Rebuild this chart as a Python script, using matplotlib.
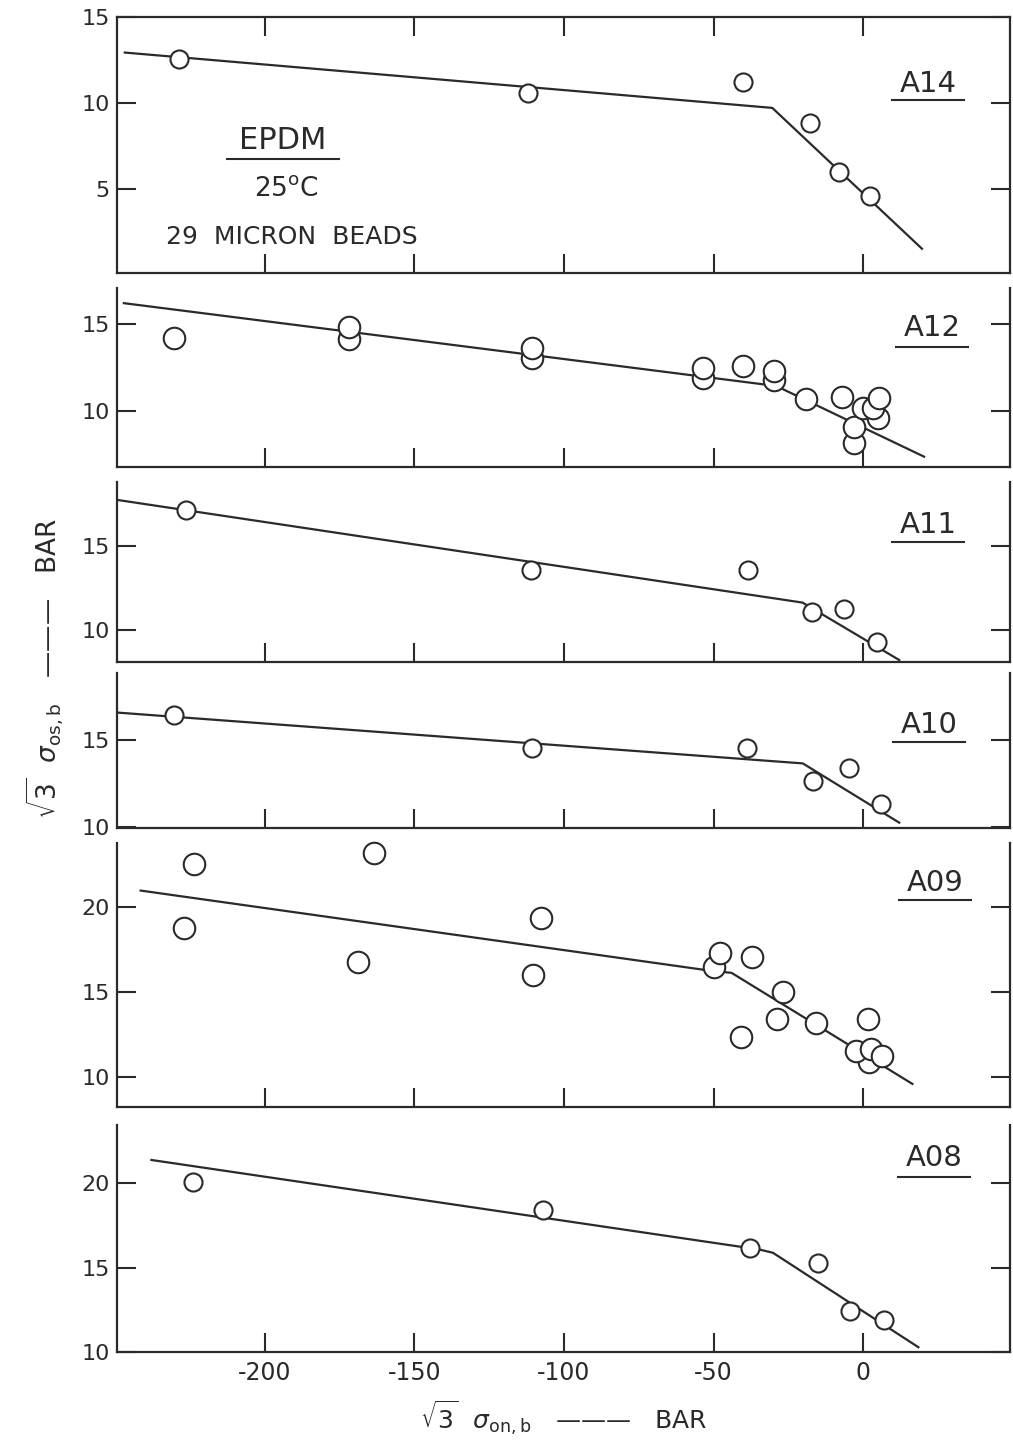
import matplotlib.pyplot as plt

plt.rcParams['font.family'] = ['DejaVu Sans']
plt.rcParams['axes.unicode_minus'] = False
plt.rcParams['mathtext.fontset'] = 'dejavusans'

# values: x = sqrt(3)*sigma_on,b (bar), y = sqrt(3)*sigma_os,b (bar)
names = ['A14', 'A12', 'A11', 'A10', 'A09', 'A08']

a14_x = [-228.7, -111.9, -40.2, -17.8, -8.0, 2.2]
a14_y = [12.54, 10.58, 11.19, 8.81, 6.00, 4.62]
a14_fit_x = [-246.7, -30.4, 19.6]
a14_fit_y = [12.92, 9.71, 1.54]

a12_x = [-230.3, -171.7, -171.7, -110.6, -110.6, -53.6, -53.6, -40.2, -30.0, -30.0,
         -19.3, -7.2, -3.0, -3.0, -0.2, 4.8, 3.1, 5.1]
a12_y = [14.19, 14.13, 14.86, 13.03, 13.61, 11.88, 12.45, 12.59, 11.78, 12.32,
         10.66, 10.78, 8.11, 9.07, 10.14, 9.56, 10.14, 10.72]
a12_fit_x = [-247.0, -29.1, 20.3]
a12_fit_y = [16.22, 11.43, 7.34]

a11_x = [-226.1, -111.1, -38.6, -17.1, -6.3, 4.6]
a11_y = [17.14, 13.57, 13.57, 11.09, 11.23, 9.30]
a11_fit_x = [-249.0, -20.3, 12.0]
a11_fit_y = [17.74, 11.63, 8.21]

a10_x = [-230.2, -110.6, -38.9, -16.9, -4.9, 5.9]
a10_y = [16.44, 14.56, 14.52, 12.65, 13.37, 11.29]
a10_fit_x = [-248.9, -20.2, 12.0]
a10_fit_y = [16.58, 13.65, 10.23]

a09_x = [-223.6, -227.0, -163.3, -168.9, -107.7, -110.2, -50.0, -48.0, -37.1, -40.8,
         -26.9, -28.9, -15.8, 1.4, 2.0, -2.4, 2.6, 6.4]
a09_y = [22.53, 18.76, 23.18, 16.80, 19.35, 16.02, 16.47, 17.32, 17.06, 12.39,
         15.04, 13.43, 13.19, 13.43, 10.92, 11.52, 11.66, 11.27]
a09_fit_x = [-241.4, -52.4, -44.0, 16.4]
a09_fit_y = [20.98, 16.30, 16.14, 9.61]

a08_x = [-223.9, -106.9, -38.0, -15.2, -4.4, 6.8]
a08_y = [20.10, 18.42, 16.20, 15.31, 12.44, 11.93]
a08_fit_x = [-237.8, -34.7, -30.2, 18.4]
a08_fit_y = [21.38, 16.08, 15.89, 10.30]

xs = [a14_x, a12_x, a11_x, a10_x, a09_x, a08_x]
ys = [a14_y, a12_y, a11_y, a10_y, a09_y, a08_y]
fit_xs = [a14_fit_x, a12_fit_x, a11_fit_x, a10_fit_x, a09_fit_x, a08_fit_x]
fit_ys = [a14_fit_y, a12_fit_y, a11_fit_y, a10_fit_y, a09_fit_y, a08_fit_y]

x_ticks = [-200, -150, -100, -50, 0]
y_ticks = [[5, 10, 15], [10, 15], [10, 15], [10, 15], [10, 15, 20], [10, 15, 20]]
y_limits = [(0.15, 15.0), (6.76, 17.08), (8.11, 18.83), (9.94, 18.85), (8.27, 23.76), (10.0, 23.45)]

# panel layout (pixel rows of each box in the original page)
W, H = 1013, 1442
rows = [(16.7, 272.7), (288.3, 466.7), (481.7, 661.7), (673.3, 827.7), (843.3, 1106.7), (1125, 1352.3)]
left_px, right_px = 117, 1010
label_pos = [(21.7, 11.1, 10.16), (23.0, 14.79, 13.69), (21.7, 16.25, 15.24),
             (22.0, 15.87, 14.88), (24.0, 21.43, 20.43), (23.7, 21.5, 20.37)]
marker_sizes = [13, 15.5, 13, 13, 15.5, 13]

ink = '#2a2a2a'
fig = plt.figure(figsize=(W / 100, H / 100), dpi=100)

for i, name in enumerate(names):
    top, bot = rows[i]
    ax = fig.add_axes([left_px / W, 1 - bot / H, (right_px - left_px) / W, (bot - top) / H])
    ax.plot(fit_xs[i], fit_ys[i], color=ink, lw=1.6, zorder=2)
    ax.plot(xs[i], ys[i], 'o', ms=marker_sizes[i], mfc='white', mec=ink, mew=1.5,
            zorder=3, clip_on=False)
    ax.set_xlim(-249.3, 49)
    ax.set_ylim(*y_limits[i])
    ax.set_xticks(x_ticks)
    ax.set_yticks(y_ticks[i])
    for s in ax.spines.values():
        s.set_linewidth(1.6)
        s.set_color(ink)
    ax.spines['top'].set_visible(i == 0)
    ax.tick_params(axis='x', direction='in', length=14, width=1.5, color=ink,
                   top=(i == 0), bottom=True, labelsize=17, pad=6, labelcolor=ink)
    ax.tick_params(axis='y', direction='in', length=14, width=1.5, color=ink,
                   left=True, right=True, labelsize=16, pad=5, labelcolor=ink)
    if i < len(names) - 1:
        ax.tick_params(axis='x', labelbottom=False)

    lx, ly, uy = label_pos[i]
    ax.text(lx, ly, name, fontsize=21, ha='center', va='center', color=ink)
    ax.plot([lx - 12, lx + 12], [uy, uy], color=ink, lw=1.5)

    if i == 0:
        ax.text(-194, 7.8, 'EPDM', fontsize=22, ha='center', va='center', color=ink)
        ax.plot([-212.7, -175], [6.75, 6.75], color=ink, lw=1.5)
        ax.text(-192.7, 5.0, '25$^{\\mathrm{o}}$C', fontsize=19, ha='center', va='center', color=ink)
        ax.text(-191, 2.2, '29  MICRON  BEADS', fontsize=18, ha='center', va='center', color=ink)

    if i == len(names) - 1:
        ax.set_xlabel(r'$\sqrt{3}\ \ \sigma_{\mathrm{on,b}}$   ———   BAR', fontsize=18,
                      color=ink, labelpad=10)

fig.text(45 / W, 1 - 668 / H, r'$\sqrt{3}\ \ \sigma_{\mathrm{os,b}}$   ———   BAR', fontsize=19,
         rotation=90, ha='center', va='center', color=ink)

fig.savefig('out.png', dpi=100)
